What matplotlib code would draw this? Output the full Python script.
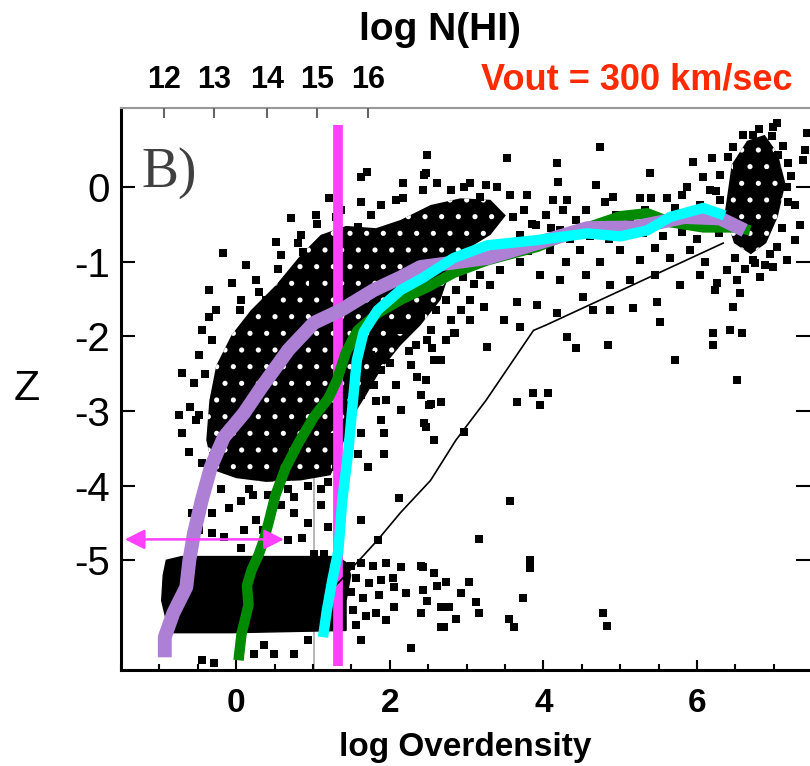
import matplotlib.pyplot as plt
from matplotlib.patches import Polygon

plt.rcParams['font.family'] = ['Liberation Sans', 'DejaVu Sans']
plt.rcParams['hatch.linewidth'] = 1.3

# curves: log overdensity (x) vs Z (y)
purple_x = [-0.93, -0.93, -0.82, -0.65, -0.61, -0.55, -0.45, -0.33, -0.16, 0.10, 0.33, 0.68,
            1.01, 1.36, 1.79, 2.14, 2.40, 3.27, 3.92, 4.57, 5.19, 5.84, 6.30, 6.62]
purple_y = [-6.30, -6.03, -5.71, -5.36, -5.00, -4.64, -4.20, -3.75, -3.35, -3.03, -2.68, -2.18,
            -1.82, -1.65, -1.38, -1.21, -1.07, -0.95, -0.75, -0.55, -0.54, -0.40, -0.42, -0.58]

green_x = [0.03, 0.07, 0.16, 0.14, 0.20, 0.29, 0.36, 0.43, 0.51, 0.64, 0.81, 1.01, 1.20, 1.31,
           1.43, 1.58, 1.84, 2.14, 2.49, 2.83, 3.27, 3.92, 4.35, 5.00, 5.35, 5.65, 6.08, 6.52, 6.69]
green_y = [-6.34, -5.98, -5.60, -5.34, -5.13, -4.93, -4.73, -4.46, -4.13, -3.77, -3.43, -3.08,
           -2.83, -2.59, -2.21, -1.92, -1.69, -1.51, -1.34, -1.15, -0.98, -0.80, -0.62, -0.39,
           -0.35, -0.47, -0.54, -0.54, -0.58]

cyan_x = [1.13, 1.18, 1.25, 1.33, 1.38, 1.46, 1.52, 1.57, 1.66, 1.84, 2.14, 2.44, 2.83, 3.27,
          3.92, 4.57, 5.00, 5.35, 5.65, 6.08, 6.36]
cyan_y = [-6.03, -5.67, -5.27, -4.87, -4.20, -3.53, -2.86, -2.32, -1.94, -1.65, -1.38, -1.21,
          -0.95, -0.78, -0.71, -0.62, -0.66, -0.58, -0.40, -0.28, -0.38]

thin_x = [1.10, 1.36, 1.84, 2.14, 2.53, 2.86, 3.25, 3.87, 4.03, 6.34]
thin_y = [-5.54, -5.27, -4.73, -4.36, -3.93, -3.39, -2.86, -1.92, -1.85, -0.75]

# dense parts of the particle cloud
slab_x = [-0.91, -0.71, 1.30, 1.43, 1.49, 1.43, 1.43, -0.06, -0.82, -0.91, -0.97, -0.95]
slab_y = [-5.00, -4.95, -4.95, -5.03, -5.20, -5.54, -5.94, -5.97, -5.97, -5.80, -5.54, -5.20]

core_x = [-0.30, -0.39, -0.35, -0.26, -0.06, 0.19, 0.52, 0.84, 1.10, 1.43, 1.82, 2.14, 2.53,
          2.92, 3.31, 3.51, 3.31, 2.99, 2.79, 2.66, 2.40, 2.14, 1.88, 1.69, 1.49, 1.36, 1.23,
          0.84, 0.39, 0.00]
core_y = [-3.79, -3.39, -2.86, -2.39, -1.98, -1.65, -1.31, -0.91, -0.64, -0.52, -0.55, -0.44,
          -0.24, -0.15, -0.17, -0.38, -0.64, -0.84, -1.11, -1.51, -1.85, -2.12, -2.45, -2.79,
          -3.12, -3.53, -3.86, -3.93, -3.95, -3.90]

clump_x = [6.36, 6.45, 6.65, 6.88, 7.05, 7.15, 7.05, 6.90, 6.70, 6.48]
clump_y = [-0.35, 0.30, 0.62, 0.70, 0.45, 0.05, -0.40, -0.75, -0.90, -0.75]

# individual particles
pts = [
    (-0.17, -0.88), (0.13, -1.05), (-0.36, -1.38), (-0.06, -1.29), (-0.36, -1.74), (-0.71, -2.49),
    (-0.55, -2.63), (-0.32, -2.05), (0.52, -0.74), (0.71, -0.42), (0.87, -0.87), (1.21, -0.15),
    (1.62, 0.13), (1.70, 0.20), (1.62, -0.20), (2.17, 0.05), (2.17, -0.15), (2.44, 0.16),
    (2.62, 0.05), (2.49, 0.43), (1.58, -0.54), (1.75, -0.38), (2.43, -0.04), (1.00, -1.29),
    (0.39, -1.51), (-0.45, -1.92), (-0.26, -1.65), (-0.48, -2.25), (-0.52, -3.12),
    (0.06, -1.51), (0.26, -1.25), (0.58, -0.91), (0.84, -0.64), (1.04, -0.38),
    (1.36, -0.31), (1.88, -0.24), (2.08, -0.17), (2.79, -0.04), (3.05, 0.05), (3.25, 0.03),
    (3.57, -0.11), (-0.40, -2.50), (-0.60, -2.95), (-0.70, -3.30), (0.05, -1.65), (0.30, -1.40),
    (0.55, -1.10), (0.80, -0.75), (1.05, -0.50), (1.30, -0.40),
    (-0.75, -3.06), (-0.48, -3.06), (-0.62, -3.55), (-0.45, -3.70), (-0.40, -4.00),
    (0.16, -4.05), (0.22, -4.13), (0.42, -4.12), (0.68, -4.05), (0.75, -4.15), (0.94, -4.00),
    (1.10, -4.05), (1.19, -3.95), (1.30, -3.75), (1.25, -3.35),
    (0.06, -4.20), (-0.10, -4.30), (-0.32, -4.37), (-0.58, -4.37), (-0.49, -4.60), (-0.32, -4.64),
    (-0.16, -4.69), (0.06, -4.83), (0.10, -4.60), (0.75, -4.37), (0.94, -4.50), (0.68, -4.73),
    (1.01, -4.91), (1.14, -4.91), (0.45, -4.36), (0.26, -4.46), (0.58, -4.26), (1.10, -4.26),
    (-0.20, -4.05), (0.35, -4.60), (0.85, -4.70), (1.20, -4.55),
    (1.62, -3.30), (1.92, -3.30), (1.58, -3.57), (1.71, -3.75), (1.62, -4.46), (1.84, -4.73),
    (2.12, -4.17), (2.44, -3.16), (2.57, -3.39), (1.92, -3.57), (1.88, -3.12), (2.53, -2.90),
    (2.66, -2.88), (2.47, -3.22), (2.96, -3.28), (3.57, -4.20), (3.16, -4.71),
    (1.56, -2.12), (1.75, -2.25), (1.95, -2.05), (2.14, -1.92), (2.34, -2.12), (2.53, -1.92),
    (2.73, -2.05), (1.69, -2.52), (1.88, -2.45), (2.08, -2.65), (2.27, -2.39), (2.47, -2.59),
    (2.66, -2.32), (1.62, -2.79), (1.82, -2.86), (2.14, -2.99), (2.40, -2.79), (2.60, -1.65),
    (2.79, -1.78), (2.40, -1.72), (2.73, -1.51), (2.92, -1.65), (3.05, -1.51), (2.86, -1.38),
    (1.49, -2.99), (1.80, -2.65), (2.00, -2.35), (2.25, -2.20), (2.55, -2.15), (1.95, -2.85),
    (2.35, -2.55), (2.85, -1.95), (2.95, -1.20), (3.10, -1.30), (2.60, -1.40), (2.45, -1.30),
    (1.49, -5.07), (1.62, -5.03), (1.78, -5.07), (1.95, -5.03), (1.56, -5.24), (1.73, -5.31),
    (1.88, -5.27), (2.04, -5.24), (1.49, -5.43), (1.65, -5.51), (1.86, -5.47), (1.52, -5.67),
    (1.69, -5.74), (1.82, -5.70), (1.56, -5.87), (1.95, -5.80), (2.05, -5.36), (2.05, -5.63),
    (2.14, -5.09), (2.40, -5.07), (2.57, -5.17), (2.21, -5.44), (2.49, -5.54), (2.66, -5.63),
    (2.40, -5.71), (2.70, -5.90), (2.27, -6.18), (1.62, -6.07),
    (0.36, -6.14), (0.23, -6.25), (0.49, -6.25), (0.75, -6.25), (0.94, -6.07), (-0.29, -6.38),
    (-0.45, -6.34),
    (2.51, -2.92), (3.66, -2.88), (3.96, -2.92), (2.43, -5.09), (2.43, -5.40), (2.62, -5.34),
    (2.73, -5.29), (3.03, -5.29), (2.92, -5.44), (2.77, -5.63), (3.12, -5.56), (3.16, -5.71),
    (2.86, -5.78), (2.66, -5.90), (3.55, -5.78), (3.61, -5.90), (3.73, -5.51), (3.83, -5.11),
    (3.83, -5.00), (4.78, -5.71), (4.83, -5.88),
    (3.53, 0.39), (4.18, 0.32), (4.74, 0.54), (5.39, 0.19), (5.95, 0.34), (6.19, 0.39),
    (6.47, 0.54), (6.73, 0.70), (6.99, 0.80), (7.05, 0.43), (7.17, 0.00), (6.91, 0.19),
    (2.47, 0.19), (2.96, 0.00), (3.18, -0.13), (3.40, 0.00), (3.79, -0.11), (4.19, 0.07),
    (4.31, -0.17), (4.13, -0.17), (4.68, 0.03), (4.91, -0.13), (5.26, -0.15), (5.61, -0.15),
    (5.87, 0.00), (6.08, 0.13), (6.30, 0.16), (6.52, 0.27),
    (3.60, -0.40), (3.75, -0.30), (3.85, -0.50), (3.55, -0.80), (3.80, -0.85), (3.40, -0.90),
    (3.20, -0.95), (4.10, -0.55), (4.35, -0.70), (4.60, -0.65), (4.85, -0.70), (5.05, -0.65),
    (5.30, -0.62), (5.55, -0.65), (5.80, -0.60), (6.00, -0.70), (4.25, -0.30), (4.80, -0.20),
    (5.40, -0.15), (5.80, -0.10), (6.10, -0.30), (6.25, -0.05),
    (3.70, -0.64), (3.90, -0.51), (4.03, -0.38), (4.22, -0.58), (4.42, -0.44), (4.55, -0.31),
    (4.74, -0.51), (4.94, -0.38), (5.13, -0.47), (5.32, -0.31), (5.52, -0.44), (5.71, -0.28),
    (5.91, -0.38), (6.04, -0.24), (6.17, -0.51), (4.09, -0.84), (4.29, -1.01), (4.48, -0.84),
    (4.74, -1.01), (5.00, -0.84), (5.26, -0.98), (5.45, -0.82), (5.65, -0.95), (5.91, -0.84),
    (6.10, -1.01), (3.70, -1.01), (3.44, -1.11), (3.18, -1.18), (2.99, -1.01), (3.31, -1.31),
    (3.96, -1.18), (4.22, -1.25), (4.55, -1.18), (4.87, -1.31), (5.13, -1.25), (5.45, -1.18),
    (5.78, -1.31), (6.04, -1.18), (6.23, -1.38),
    (2.57, -2.32), (3.27, -2.14), (3.70, -1.88), (3.66, -1.54), (3.92, -1.58), (4.18, -1.69),
    (4.31, -2.01), (4.42, -2.16), (4.52, -1.47), (4.64, -1.65), (4.87, -1.65), (5.17, -1.62),
    (5.48, -1.54), (5.52, -1.81), (5.71, -2.32), (6.21, -1.96), (6.21, -2.12), (6.43, -1.92),
    (6.58, -1.96), (6.52, -2.59), (3.87, -2.76), (4.06, -2.76), (4.84, -2.12), (2.83, -1.96),
    (3.05, -1.78), (2.49, -2.05), (3.22, -1.61), (3.48, -1.78),
    (6.39, -1.11), (6.52, -1.25), (6.56, -1.42), (6.47, -1.61), (6.82, -1.21), (6.99, -1.07),
    (6.73, -0.98), (7.04, -0.80), (6.26, -1.29), (7.17, -0.98), (7.27, -0.71), (7.04, 0.86),
    (7.43, 0.72), (7.38, 0.36), (7.40, 0.50), (7.27, -0.24), (7.34, -0.51), (6.30, -0.17),
    (6.17, -0.04), (6.40, 0.40), (6.60, 0.70), (6.80, 0.78), (7.12, 0.55),
    (7.22, 0.15), (7.18, -0.20), (7.10, -0.55), (6.95, -0.90), (6.75, -1.02), (6.50, -0.95),
    (6.28, -0.62), (6.97, 0.68), (7.18, 0.32), (6.62, -1.10), (6.88, -1.05),
]
pts_x = [p[0] for p in pts]
pts_y = [p[1] for p in pts]

nhi_pos = [-0.935, -0.286, 0.403, 1.052, 1.714]
nhi_labels = ['12', '13', '14', '15', '16']

magenta = '#ff40ff'

fig = plt.figure(figsize=(8.1, 7.66), dpi=100)
ax = fig.add_axes([121 / 810, 96 / 766, 689 / 810, 562 / 766])
ax.set_xlim(-1.48, 7.47)
ax.set_ylim(-6.47, 1.06)

ax.add_patch(Polygon(list(zip(slab_x, slab_y)), closed=True, fc='black', ec='black', lw=1, zorder=2))
ax.add_patch(Polygon(list(zip(core_x, core_y)), closed=True, fc='black', ec='white', lw=0,
                     hatch='.', zorder=2))
ax.add_patch(Polygon(list(zip(clump_x, clump_y)), closed=True, fc='black', ec='white', lw=0,
                     hatch='.', zorder=2))
ax.scatter(pts_x, pts_y, marker='s', s=26, c='black', linewidths=0, zorder=2)

# faint scan line
ax.plot([1.01, 1.01], [-3.9, -6.47], color='#aaaaaa', lw=1.2, zorder=1)

ax.text(0.03, 0.93, 'B)', transform=ax.transAxes, fontsize=40, family='Liberation Serif',
        color='#404040', va='top', ha='left')

ax.plot([1.325, 1.325], [0.83, -6.41], color=magenta, lw=7, solid_capstyle='butt', zorder=3)
ax.plot(thin_x, thin_y, color='black', lw=1.2, zorder=3)
ax.plot(green_x, green_y, color='#008a00', lw=7.5, solid_capstyle='butt', solid_joinstyle='round', zorder=4)
ax.plot(purple_x, purple_y, color='#ad80d6', lw=10, solid_capstyle='butt', solid_joinstyle='round', zorder=5)
ax.plot(cyan_x, cyan_y, color='#00ffff', lw=7.5, solid_capstyle='butt', solid_joinstyle='round', zorder=6)

ax.annotate('', xy=(-1.45, -4.72), xytext=(0.62, -4.72),
            arrowprops=dict(arrowstyle='<|-|>', color=magenta, lw=1.8, mutation_scale=30,
                            shrinkA=0, shrinkB=0), zorder=7)

for side in ['left', 'bottom']:
    ax.spines[side].set_linewidth(2.2)
ax.spines['top'].set_color('#999999')
ax.spines['top'].set_linewidth(1.5)
ax.spines['right'].set_visible(False)

ax.set_xticks([0, 2, 4, 6])
ax.set_xticks([-1.5, -1, -0.5, 0.5, 1, 1.5, 2.5, 3, 3.5, 4.5, 5, 5.5, 6.5, 7], minor=True)
ax.set_xticklabels(['0', '2', '4', '6'], fontweight='bold', fontsize=24)
ax.set_yticks([0, -1, -2, -3, -4, -5])
ax.set_yticklabels(['0', '-1', '-2', '-3', '-4', '-5'], fontsize=29)
ax.tick_params(axis='x', which='major', direction='in', length=7, width=1.5, pad=13, top=False)
ax.tick_params(axis='x', which='minor', direction='in', length=4, width=1.5, top=False)
ax.tick_params(axis='y', which='major', direction='in', length=10, width=1.5, pad=8,
               right=True, labelright=False)
ax.set_xlabel('log Overdensity', fontsize=24, fontweight='bold', labelpad=9)
ax.set_ylabel('Z', fontsize=31, rotation=0, labelpad=34, va='center')

ax2 = ax.twiny()
ax2.set_xlim(ax.get_xlim())
ax2.set_xticks(nhi_pos)
ax2.set_xticklabels(nhi_labels, fontweight='bold', fontsize=22)
ax2.tick_params(axis='x', direction='in', length=7, width=1.5, color='#666666', pad=9)
for s in ax2.spines.values():
    s.set_visible(False)

fig.text(440 / 810, 1 - 30 / 766, 'log N(HI)', fontsize=28, fontweight='bold', ha='center', va='center')
fig.text(637 / 810, 1 - 80 / 766, 'Vout = 300 km/sec', fontsize=26, fontweight='bold',
         color='#ff2a00', ha='center', va='center')

fig.savefig('out.png', dpi=100)
